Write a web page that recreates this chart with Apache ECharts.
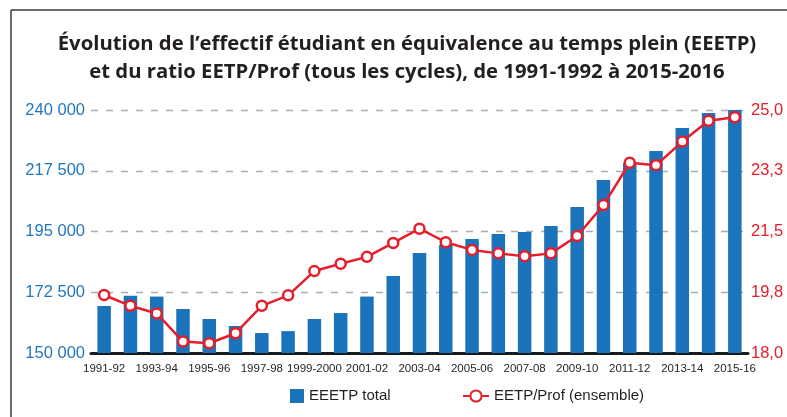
<!DOCTYPE html>
<html>
<head>
<meta charset="utf-8">
<script src="https://cdn.jsdelivr.net/npm/echarts@6/dist/echarts.min.js"></script>
<style>
html,body{margin:0;padding:0;background:#fff;}
#chart{width:787px;height:417px;}
</style>
</head>
<body>
<div id="chart"></div>
<script>
var categories = ['1991-92','1992-93','1993-94','1994-95','1995-96','1996-97','1997-98','1998-99','1999-2000','2000-01','2001-02','2002-03','2003-04','2004-05','2005-06','2006-07','2007-08','2008-09','2009-10','2010-11','2011-12','2012-13','2013-14','2014-15','2015-16'];
var eeetpTotal = [167400, 171200, 170900, 166300, 162600, 160000, 157400, 158100, 162600, 164800, 170900, 178500, 187000, 190000, 192200, 194100, 194800, 197000, 204100, 214100, 220400, 224800, 233300, 238900, 240000];
var ratioEetpProf = [19.67, 19.36, 19.14, 18.33, 18.28, 18.57, 19.36, 19.66, 20.36, 20.57, 20.77, 21.17, 21.58, 21.19, 20.97, 20.87, 20.79, 20.87, 21.37, 22.26, 23.48, 23.41, 24.09, 24.69, 24.79];
var leftTicks = [150000, 172500, 195000, 217500, 240000];
var rightTicks = [18, 19.75, 21.5, 23.25, 25];

var titleText = 'Évolution de l\u2019effectif étudiant en équivalence au temps plein (EEETP)\net du ratio EETP/Prof (tous les cycles), de 1991-1992 à 2015-2016';

var BLUE = '#1b73bb';
var RED = '#e41e2b';
var SANS = '"Liberation Sans", Arial, sans-serif';

var chart = echarts.init(document.getElementById('chart'), null, {renderer: 'canvas'});
chart.setOption({
  animation: false,
  backgroundColor: '#fff',
  title: {
    text: titleText,
    left: 402,
    textAlign: 'center',
    top: 25,
    textStyle: {
      fontFamily: '"Open Sans", "Noto Sans", sans-serif',
      fontWeight: 'bold',
      fontSize: 20.3,
      lineHeight: 28,
      color: '#231f20'
    }
  },
  graphic: [
    {type: 'line', shape: {x1: 11, y1: 10, x2: 787, y2: 10}, style: {stroke: '#3a3a3a', lineWidth: 1.5}, silent: true},
    {type: 'line', shape: {x1: 11, y1: 10, x2: 11, y2: 417}, style: {stroke: '#3a3a3a', lineWidth: 1.5}, silent: true}
  ],
  legend: [
    {
      left: 290,
      top: 387,
      padding: 0,
      itemWidth: 14,
      itemHeight: 14,
      textStyle: {fontFamily: SANS, fontSize: 15, color: '#231f20', lineHeight: 18},
      data: [{name: 'EEETP total', icon: 'rect', itemStyle: {color: BLUE}}]
    },
    {
      left: 462,
      top: 387,
      padding: 0,
      itemWidth: 26,
      itemHeight: 14,
      textStyle: {fontFamily: SANS, fontSize: 15, color: '#231f20', lineHeight: 18},
      data: [{name: 'EETP/Prof (ensemble)'}]
    }
  ],
  grid: {left: 91, right: 39, top: 110, bottom: 64, containLabel: false},
  xAxis: {
    type: 'category',
    data: categories,
    boundaryGap: true,
    axisLine: {show: true, lineStyle: {color: '#1a1a1a', width: 3}},
    axisTick: {show: false},
    axisLabel: {interval: 1, margin: 10, color: '#231f20', fontFamily: SANS, fontSize: 11.5}
  },
  yAxis: [
    {
      type: 'value',
      min: leftTicks[0],
      max: leftTicks[leftTicks.length - 1],
      interval: leftTicks[1] - leftTicks[0],
      axisLine: {show: false},
      axisTick: {show: false},
      splitLine: {show: true, lineStyle: {color: '#a9adb3', width: 1.3, type: [7, 8]}},
      axisLabel: {
        color: '#2277bf',
        fontFamily: SANS,
        fontSize: 16.5,
        margin: 6,
        formatter: function (v) { return String(Math.round(v)).replace(/\B(?=(\d{3})+(?!\d))/g, ' '); }
      }
    },
    {
      type: 'value',
      min: rightTicks[0],
      max: rightTicks[rightTicks.length - 1],
      interval: rightTicks[1] - rightTicks[0],
      axisLine: {show: false},
      axisTick: {show: false},
      splitLine: {show: false},
      axisLabel: {
        color: RED,
        fontFamily: SANS,
        fontSize: 16.5,
        margin: 3,
        formatter: function (v) { return v.toFixed(1).replace('.', ','); }
      }
    }
  ],
  series: [
    {
      name: 'EEETP total',
      type: 'bar',
      data: eeetpTotal,
      barWidth: 13.5,
      itemStyle: {color: BLUE},
      yAxisIndex: 0
    },
    {
      name: 'EETP/Prof (ensemble)',
      type: 'line',
      yAxisIndex: 1,
      data: ratioEetpProf,
      symbol: 'circle',
      symbolSize: 10,
      showAllSymbol: true,
      lineStyle: {color: RED, width: 2.5},
      itemStyle: {color: '#fff', borderColor: RED, borderWidth: 2.5},
      z: 3
    }
  ]
});
</script>
</body>
</html>
